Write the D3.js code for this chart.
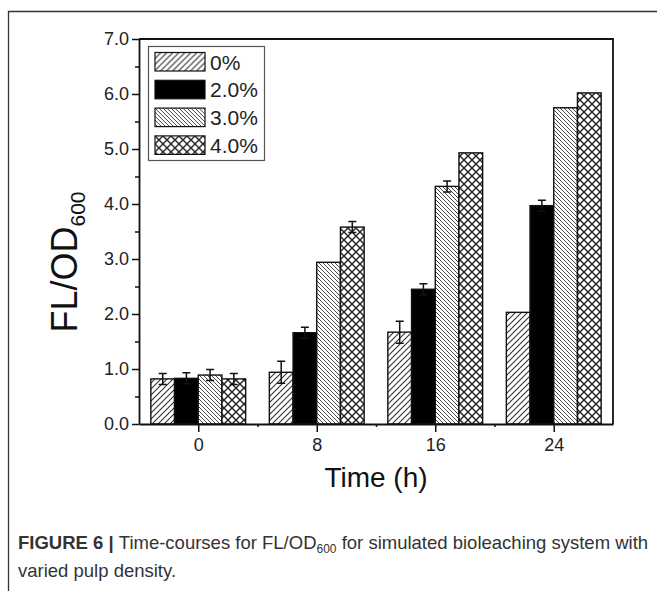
<!DOCTYPE html>
<html>
<head>
<meta charset="utf-8">
<script src="https://cdn.jsdelivr.net/npm/d3@7"></script>
<style>
  body { margin: 0; background: #fff; }
  svg { display: block; }
</style>
</head>
<body>
<svg width="657" height="591"></svg>
<script>
// data
var times = [0, 8, 16, 24];
var series = ["0%", "2.0%", "3.0%", "4.0%"];
var values0 = [0.82, 0.94, 1.67, 2.03];
var values2 = [0.83, 1.66, 2.45, 3.97];
var values3 = [0.89, 2.94, 4.32, 5.75];
var values4 = [0.82, 3.58, 4.93, 6.02];
var err0 = [0.10, 0.20, 0.20, 0];
var err2 = [0.10, 0.10, 0.10, 0.10];
var err3 = [0.10, 0, 0.10, 0];
var err4 = [0.10, 0.10, 0, 0];
var yTicks = [0, 1, 2, 3, 4, 5, 6, 7];

var allValues = [values0, values2, values3, values4];
var allErrs = [err0, err2, err3, err4];

var svg = d3.select("svg"),
    width = +svg.attr("width"),
    height = +svg.attr("height");

svg.append("rect").attr("width", width).attr("height", height).attr("fill", "#fff");

// outer figure frame (left + top only)
svg.append("path")
  .attr("d", "M8.5," + height + "V11.5H" + width)
  .attr("fill", "none").attr("stroke", "#333").attr("stroke-width", 1.3);

var pLeft = 139, pRight = 613, pTop = 39, pBottom = 424;

var x = d3.scaleLinear().domain([-4, 28]).range([pLeft, pRight]);
var y = d3.scaleLinear().domain([0, 7]).range([pBottom, pTop]);
var barW = 1.6; // in time units
var offsets = [-2.4, -0.8, 0.8, 2.4];

// patterns
var defs = svg.append("defs");
function linePattern(id, size, dir, sw, col) {
  var p = defs.append("pattern").attr("id", id)
    .attr("patternUnits", "userSpaceOnUse")
    .attr("width", size).attr("height", size);
  p.append("rect").attr("width", size).attr("height", size).attr("fill", "#fff");
  var d;
  if (dir > 0) d = "M0," + size + "L" + size + ",0M-1,1L1,-1M" + (size - 1) + "," + (size + 1) + "L" + (size + 1) + "," + (size - 1);
  else d = "M0,0L" + size + "," + size + "M-1," + (size - 1) + "L1," + (size + 1) + "M" + (size - 1) + ",-1L" + (size + 1) + ",1";
  p.append("path").attr("d", d).attr("stroke", col).attr("stroke-width", sw);
}
linePattern("p0", 6, 1, 1.1, "#333");
linePattern("p3", 4, -1, 0.9, "#333");
var px = defs.append("pattern").attr("id", "p4")
  .attr("patternUnits", "userSpaceOnUse").attr("width", 8).attr("height", 8);
px.append("rect").attr("width", 8).attr("height", 8).attr("fill", "#fff");
px.append("path").attr("d", "M0,0L8,8M0,8L8,0").attr("stroke", "#222").attr("stroke-width", 1.4);

var fills = ["url(#p0)", "#000", "url(#p3)", "url(#p4)"];

// bars
var bars = [];
series.forEach(function(s, i) {
  times.forEach(function(t, j) {
    bars.push({s: i, t: t, v: allValues[i][j], e: allErrs[i][j]});
  });
});

svg.append("g")
  .selectAll("rect")
  .data(bars)
  .join("rect")
    .attr("x", function(d) { return x(d.t + offsets[d.s] - barW / 2); })
    .attr("width", function(d) { return x(barW) - x(0); })
    .attr("y", function(d) { return y(d.v); })
    .attr("height", function(d) { return y(0) - y(d.v); })
    .attr("fill", function(d) { return fills[d.s]; })
    .attr("stroke", "#111")
    .attr("stroke-width", 1.4);

// error bars
var eb = svg.append("g").attr("stroke", "#111").attr("stroke-width", 1.5).attr("fill", "none");
eb.selectAll("path")
  .data(bars.filter(function(d) { return d.e > 0; }))
  .join("path")
    .attr("d", function(d) {
      var cx = x(d.t + offsets[d.s]);
      var y1 = y(d.v + d.e), y2 = y(d.v - d.e);
      return "M" + (cx - 4) + "," + y1 + "H" + (cx + 4) + "M" + cx + "," + y1 + "V" + y2 + "M" + (cx - 4) + "," + y2 + "H" + (cx + 4);
    });

// plot frame (top and right)
svg.append("path")
  .attr("d", "M" + pLeft + "," + pTop + "H" + pRight + "V" + pBottom)
  .attr("fill", "none").attr("stroke", "#111").attr("stroke-width", 1.8);

// y axis
svg.append("g")
  .attr("transform", "translate(" + pLeft + ",0)")
  .call(d3.axisLeft(y).tickValues(yTicks).tickFormat(d3.format(".1f")).tickSize(7).tickPadding(3).tickSizeOuter(0));
svg.append("g")
  .attr("transform", "translate(" + pLeft + ",0)")
  .call(d3.axisLeft(y).tickValues(d3.range(0.5, 7, 1)).tickFormat("").tickSize(4))
  .select(".domain").remove();

// x axis
svg.append("g")
  .attr("transform", "translate(0," + pBottom + ")")
  .call(d3.axisBottom(x).tickValues(times).tickSize(8).tickPadding(6).tickSizeOuter(0));
svg.append("g")
  .attr("transform", "translate(0," + pBottom + ")")
  .call(d3.axisBottom(x).tickValues([4, 12, 20]).tickFormat("").tickSize(3))
  .select(".domain").remove();

svg.selectAll(".tick line").attr("stroke", "#111").attr("stroke-width", 1.5);
svg.selectAll(".domain").attr("stroke", "#111").attr("stroke-width", 1.8);
svg.selectAll(".tick text")
  .attr("font-family", "Liberation Sans, Arial, sans-serif")
  .attr("font-size", 18).attr("fill", "#222");

// axis titles
svg.append("text")
  .attr("x", x(12)).attr("y", 487)
  .attr("text-anchor", "middle")
  .attr("font-family", "Liberation Sans, Arial, sans-serif")
  .attr("font-size", 28).attr("fill", "#111")
  .text("Time (h)");

var yt = svg.append("text")
  .attr("transform", "translate(77,262) rotate(-90)")
  .attr("text-anchor", "middle")
  .attr("font-family", "Liberation Sans, Arial, sans-serif")
  .attr("font-size", 36).attr("fill", "#111");
yt.append("tspan").text("FL/OD");
yt.append("tspan").attr("font-size", 21).attr("dy", 8).text("600");

// legend
var lg = svg.append("g");
lg.append("rect")
  .attr("x", 148.5).attr("y", 46.5).attr("width", 116).attr("height", 114)
  .attr("fill", "#fff").attr("stroke", "#555").attr("stroke-width", 1.2);
var rows = lg.selectAll("g.row")
  .data(series)
  .join("g")
    .attr("class", "row")
    .attr("transform", function(d, i) { return "translate(155," + (52.5 + i * 27.8) + ")"; });
rows.append("rect")
  .attr("width", 50).attr("height", 18.5)
  .attr("fill", function(d, i) { return fills[i]; })
  .attr("stroke", "#111").attr("stroke-width", 1.2);
rows.append("text")
  .attr("x", 55).attr("y", 17)
  .attr("font-family", "Liberation Sans, Arial, sans-serif")
  .attr("font-size", 21).attr("fill", "#222")
  .text(function(d) { return d; });

// caption
var cap = svg.append("text")
  .attr("x", 18).attr("y", 549)
  .attr("font-family", "Liberation Sans, Arial, sans-serif")
  .attr("font-size", 18.5).attr("fill", "#333");
cap.append("tspan").attr("font-weight", "bold").text("FIGURE 6 | ");
cap.append("tspan").text("Time-courses for FL/OD");
cap.append("tspan").attr("font-size", 12).attr("dy", 4).text("600");
cap.append("tspan").attr("dy", -4).text(" for simulated bioleaching system with");
svg.append("text")
  .attr("x", 18).attr("y", 577)
  .attr("font-family", "Liberation Sans, Arial, sans-serif")
  .attr("font-size", 18.5).attr("fill", "#333")
  .text("varied pulp density.");
</script>
</body>
</html>
